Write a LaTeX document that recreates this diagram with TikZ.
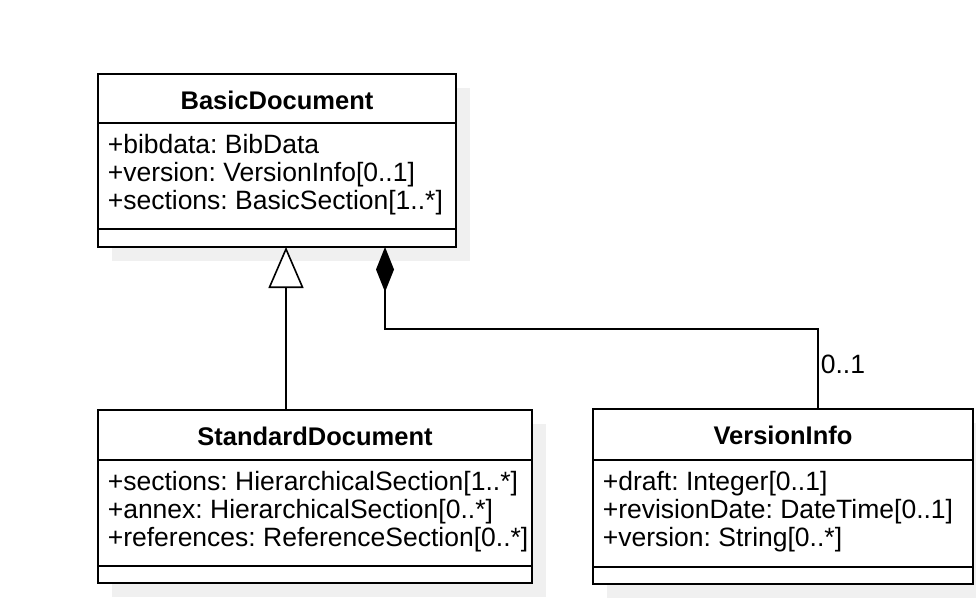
\documentclass[tikz,border=0pt]{standalone}
\usepackage{fontspec}
\setmainfont{Liberation Sans}
\usetikzlibrary{arrows.meta}
\frenchspacing

\begin{document}
\begin{tikzpicture}[x = 1pt, y = -1pt, line width = 1.6pt,
    classbox/.style = {draw, fill=white, rectangle, anchor=north west, inner sep=0pt, outer sep=0pt},
    shadowbox/.style = {fill=black!6, draw=none},
    ctitle/.style = {anchor=base, inner sep=0pt, font=\fontsize{25.5}{30}\selectfont\bfseries},
    attr/.style = {anchor=base west, inner sep=0pt, font=\fontsize{26.5}{30}\selectfont},
    gen/.style = {-{Triangle[open, fill=white, length=41pt, width=35pt]}},
    comp/.style = {{Diamond[length=45pt, width=18pt]}-}]
        \useasboundingbox (0,0) rectangle (976,610);
        \begin{scope}[shift={(98,74)}]
          \fill[shadowbox] (14,14) rectangle ++(358,173);
          \node[classbox, minimum width=358pt, minimum height=173pt] (basic) at (0,0) {};
          \draw (0,49) -- (358,49);
          \draw (0,155) -- (358,155);
          \node[ctitle] (basic-name) at (179,35) {BasicDocument};
          \node[attr] (basic-a1) at (9,79) {+bibdata: BibData};
          \node[attr] (basic-a2) at (9,107) {+version: VersionInfo[0..1]};
          \node[attr] (basic-a3) at (9,135) {+sections: BasicSection[1..*]};
          \coordinate (basic-gen) at (188,173);
          \coordinate (basic-comp) at (287,173);
        \end{scope}
        \begin{scope}[shift={(98,410)}]
          \fill[shadowbox] (14,14) rectangle ++(434,173);
          \node[classbox, minimum width=434pt, minimum height=173pt] (std) at (0,0) {};
          \draw (0,50) -- (434,50);
          \draw (0,156) -- (434,156);
          \node[ctitle] (std-name) at (217,35) {StandardDocument};
          \node[attr] (std-a1) at (9,80) {+sections: HierarchicalSection[1..*]};
          \node[attr] (std-a2) at (9,108) {+annex: HierarchicalSection[0..*]};
          \node[attr] (std-a3) at (9,136) {+references: ReferenceSection[0..*]};
          \coordinate (std-gen) at (188,0);
        \end{scope}
        \begin{scope}[shift={(593,409)}]
          \fill[shadowbox] (14,14) rectangle ++(380,175);
          \node[classbox, minimum width=380pt, minimum height=175pt] (ver) at (0,0) {};
          \draw (0,51) -- (380,51);
          \draw (0,158) -- (380,158);
          \node[ctitle] (ver-name) at (190,35) {VersionInfo};
          \node[attr] (ver-a1) at (9,81) {+draft: Integer[0..1]};
          \node[attr] (ver-a2) at (9,109) {+revisionDate: DateTime[0..1]};
          \node[attr] (ver-a3) at (9,137) {+version: String[0..*]};
          \coordinate (ver-comp) at (225,0);
        \end{scope}
        %
        \draw[gen] (std-gen) -- (basic-gen);
        \draw[comp] (basic-comp) -- ++(0,82) -| (ver-comp);
        \node[attr] (mult) at (820,373) {0..1};
      \end{tikzpicture}
\end{document}
